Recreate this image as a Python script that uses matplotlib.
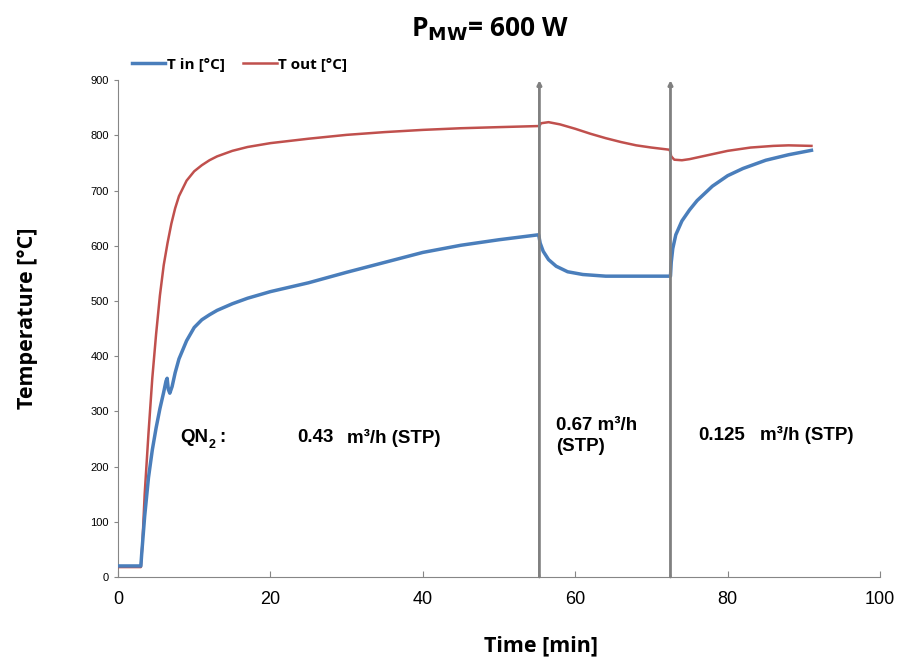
import matplotlib.pyplot as plt

# time [min] and temperatures
t_in = [0, 3.0, 3.1, 3.5, 4.0, 4.5, 5.0, 5.5, 6.0, 6.3, 6.45, 6.6, 6.8, 7.1, 7.5, 8.0, 9.0,
        10.0, 11.0, 12.0, 13.0, 15.0, 17.0, 20.0, 25.0, 30.0, 35.0, 40.0, 45.0, 50.0,
        55.2, 55.4, 55.8, 56.5, 57.5, 59.0, 61.0, 64.0, 72.5, 72.6, 72.8, 73.2, 74.0,
        75.0, 76.0, 78.0, 80.0, 82.0, 85.0, 88.0, 91.0]
T_in = [20, 20, 40, 110, 180, 230, 270, 305, 335, 355, 360, 340, 333, 345, 370, 395, 428,
        452, 466, 475, 483, 495, 505, 517, 533, 552, 570, 588, 601, 611,
        620, 605, 590, 575, 563, 553, 548, 545, 545, 570, 595, 620, 645,
        665, 682, 708, 727, 740, 755, 765, 773]

t_out = [0, 3.0, 3.2, 3.5, 4.0, 4.5, 5.0, 5.5, 6.0, 6.5, 7.0, 7.5, 8.0, 9.0, 10.0, 11.0,
         12.0, 13.0, 15.0, 17.0, 20.0, 25.0, 30.0, 35.0, 40.0, 45.0, 50.0, 55.3, 55.5,
         56.5, 58.0, 60.0, 62.0, 64.0, 66.0, 68.0, 70.0, 72.4, 72.6, 73.0, 74.0, 75.0,
         77.0, 80.0, 83.0, 86.0, 88.0, 91.0]
T_out = [18, 18, 60, 150, 260, 360, 440, 510, 565, 605, 640, 668, 690, 718, 735, 746,
         755, 762, 772, 779, 786, 794, 801, 806, 810, 813, 815, 817, 822,
         824, 820, 812, 803, 795, 788, 782, 778, 774, 762, 756, 755, 757,
         763, 772, 778, 781, 782, 781]

switch_times = [55.3, 72.5]

plt.rcParams['font.family'] = ['Liberation Sans', 'DejaVu Sans']

fig = plt.figure(figsize=(8.98, 6.58), dpi=100)
ax = fig.add_axes([0.1314, 0.1231, 0.8486, 0.755])

ax.plot(t_out, T_out, color='#c0504d', lw=1.8, label='T out [°C]', zorder=3)
ax.plot(t_in, T_in, color='#4a7ebb', lw=2.5, label='T in [°C]', zorder=3)

for ts in switch_times:
    ax.annotate('', xy=(ts, 900), xytext=(ts, 0),
                arrowprops=dict(arrowstyle='-|>', color='#808080', lw=2,
                                mutation_scale=6, shrinkA=0, shrinkB=0), zorder=4)
    ax.plot([ts], [0], marker='|', color='black', ms=5)

ax.set_xlim(0, 100)
ax.set_ylim(0, 900)
ax.set_xticks(range(0, 101, 20))
ax.set_yticks(range(0, 901, 100))
ax.tick_params(axis='x', labelsize=13, direction='in', length=4, color='#868686', pad=10)
ax.tick_params(axis='y', labelsize=8, direction='out', length=3, color='#868686')
for s in ['top', 'right']:
    ax.spines[s].set_visible(False)
for s in ['left', 'bottom']:
    ax.spines[s].set_color('#868686')

ax.set_xlabel('Time [min]', fontsize=15.5, fontweight='bold', family=['Open Sans', 'DejaVu Sans'])
ax.xaxis.set_label_coords(0.555, -0.118)
ax.set_ylabel('Temperature [°C]', fontsize=15.5, fontweight='bold', family=['Open Sans', 'DejaVu Sans'])
ax.yaxis.set_label_coords(-0.105, 0.52)
fig.text(0.545, 0.955, r'P$_{\mathbf{MW}}$= 600 W', ha='center', va='center', fontsize=19,
         fontweight='bold', family=['Open Sans', 'DejaVu Sans'])

h, l = ax.get_legend_handles_labels()
leg = ax.legend(h[::-1], l[::-1], loc='lower left', bbox_to_anchor=(0.01, 1.005), ncol=2, frameon=False,
                prop={'family': ['Open Sans', 'DejaVu Sans'], 'weight': 'bold', 'size': 11},
                handlelength=2.2, handletextpad=0.1, columnspacing=1.2, borderaxespad=0)

txt = dict(fontsize=13.5, fontweight='bold', va='center')
ax.text(8.2, 252, 'QN', **txt)
ax.text(11.9, 240, '2', fontsize=9, fontweight='bold', va='center')
ax.text(13.3, 252, ':', **txt)
ax.text(23.5, 252, '0.43', **txt)
ax.text(30.0, 252, 'm³/h (STP)', **txt)
ax.text(57.5, 255, '0.67 m³/h\n(STP)', fontsize=13.5, fontweight='bold', va='center',
        linespacing=1.3)
ax.text(76.2, 257, '0.125', **txt)
ax.text(84.3, 257, 'm³/h (STP)', **txt)

fig.savefig('out.png', dpi=100)
